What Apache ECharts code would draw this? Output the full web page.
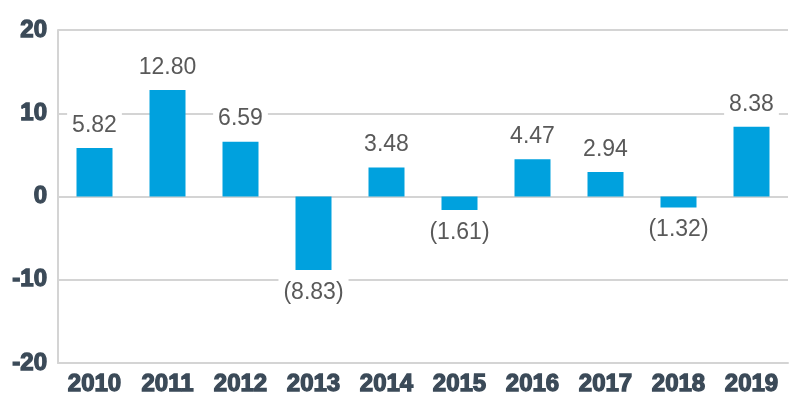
<!DOCTYPE html>
<html><head><meta charset="utf-8">
<script src="https://cdn.jsdelivr.net/npm/echarts@6/dist/echarts.min.js"></script>
<style>html,body{margin:0;padding:0;background:#fff}#c{width:800px;height:400px}</style>
</head><body><div id="c"></div>
<script>
const categories = ['2010','2011','2012','2013','2014','2015','2016','2017','2018','2019'];
const values = [5.82, 12.80, 6.59, -8.83, 3.48, -1.61, 4.47, 2.94, -1.32, 8.38];
const yTicks = [-20, -10, 0, 10, 20];

const chart = echarts.init(document.getElementById('c'));
const gridColor = '#d4d4d4';
const axisText = {color: '#3b4a58', fontFamily: 'Liberation Sans', fontWeight: 900, fontSize: 24,
  textBorderColor: '#3b4a58', textBorderWidth: 1.3};
chart.setOption({
  animation: false,
  grid: {left: 58, right: 12, top: 30, bottom: 37},
  xAxis: {
    type: 'category', data: categories,
    axisLine: {onZero: false, lineStyle: {color: gridColor, width: 2}},
    axisTick: {show: false},
    axisLabel: Object.assign({margin: 9}, axisText)
  },
  yAxis: {
    type: 'value', min: yTicks[0], max: yTicks[yTicks.length-1], interval: 10,
    axisLine: {show: true, lineStyle: {color: gridColor, width: 2}},
    axisTick: {show: false},
    splitLine: {lineStyle: {color: gridColor, width: 2}},
    axisLabel: Object.assign({margin: 11}, axisText)
  },
  series: [{
    type: 'bar', barWidth: 36,
    itemStyle: {color: '#00a1de'},
    data: values.map(v => ({
      value: v,
      label: {position: v < 0 ? 'bottom' : 'top'}
    })),
    label: {
      show: true, color: '#595959', fontFamily: 'Liberation Sans', fontSize: 23,
      backgroundColor: '#fff', padding: [2, 5], distance: 9,
      formatter: p => p.value < 0 ? '(' + Math.abs(p.value).toFixed(2) + ')' : p.value.toFixed(2)
    }
  }]
});
</script></body></html>
